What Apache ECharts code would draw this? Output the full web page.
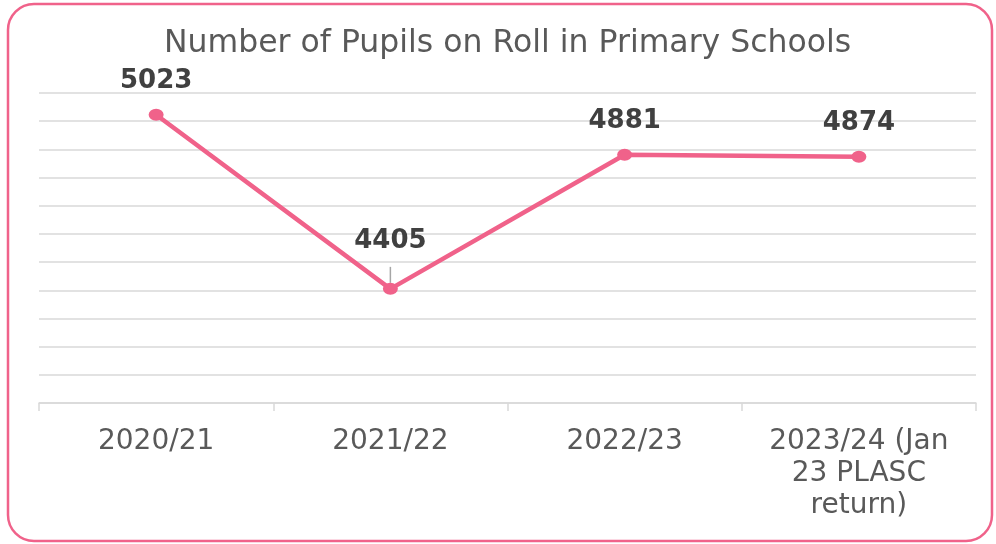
<!DOCTYPE html>
<html>
<head>
<meta charset="utf-8">
<script src="https://cdn.jsdelivr.net/npm/echarts@6/dist/echarts.min.js"></script>
<style>
  html, body { margin: 0; padding: 0; background: #ffffff; }
  #chart { width: 996px; height: 544px; }
</style>
</head>
<body>
<div id="chart"></div>
<script>
// Pupils on roll, primary schools
const chartTitle = 'Number of Pupils on Roll in Primary Schools';
const categories = ['2020/21', '2021/22', '2022/23', '2023/24 (Jan\n23 PLASC\nreturn)'];
const pupils = [5023, 4405, 4881, 4874];
const yMin = 4000;
const yMax = 5100;
const yStep = 100;

const pink = '#f0628a';
const gridGrey = '#d9d9d9';

const chart = echarts.init(document.getElementById('chart'), null, { renderer: 'canvas' });

chart.setOption({
  backgroundColor: '#ffffff',
  animation: false,
  title: {
    text: chartTitle,
    left: 159,
    top: 23,
    textStyle: {
      fontFamily: 'DejaVu Sans',
      fontWeight: 'normal',
      fontSize: 31.5,
      color: '#595959'
    }
  },
  graphic: [{
    type: 'rect',
    shape: { x: 8, y: 4, width: 984, height: 537, r: 26 },
    style: { fill: 'none', stroke: pink, lineWidth: 2.5 },
    silent: true,
    z: 10
  }],
  grid: { left: 39, right: 20, top: 93, bottom: 141 },
  xAxis: {
    type: 'category',
    data: categories,
    boundaryGap: true,
    axisLine: { show: true, lineStyle: { color: gridGrey, width: 1.5 } },
    axisTick: { show: true, length: 8, lineStyle: { color: gridGrey, width: 1.5 } },
    axisLabel: {
      fontFamily: 'DejaVu Sans',
      fontSize: 28,
      color: '#595959',
      margin: 23,
      lineHeight: 32,
      align: 'center'
    }
  },
  yAxis: {
    type: 'value',
    min: yMin,
    max: yMax,
    interval: yStep,
    axisLine: { show: false },
    axisTick: { show: false },
    axisLabel: { show: false },
    splitLine: { lineStyle: { color: gridGrey, width: 1.5 } }
  },
  series: [{
    type: 'line',
    data: pupils.map((v, i) => i === 1
      ? { value: v, label: { distance: 29 }, labelLine: { show: true } }
      : v),
    symbol: 'circle',
    symbolSize: [15, 12],
    itemStyle: { color: pink },
    lineStyle: { color: pink, width: 4.5 },
    label: {
      show: true,
      position: 'top',
      distance: 14,
      fontFamily: 'DejaVu Sans',
      fontWeight: 'bold',
      fontSize: 26,
      color: '#404040'
    },
    labelLine: {
      show: false,
      lineStyle: { color: '#a6a6a6', width: 1.5 }
    }
  }]
});
</script>
</body>
</html>
